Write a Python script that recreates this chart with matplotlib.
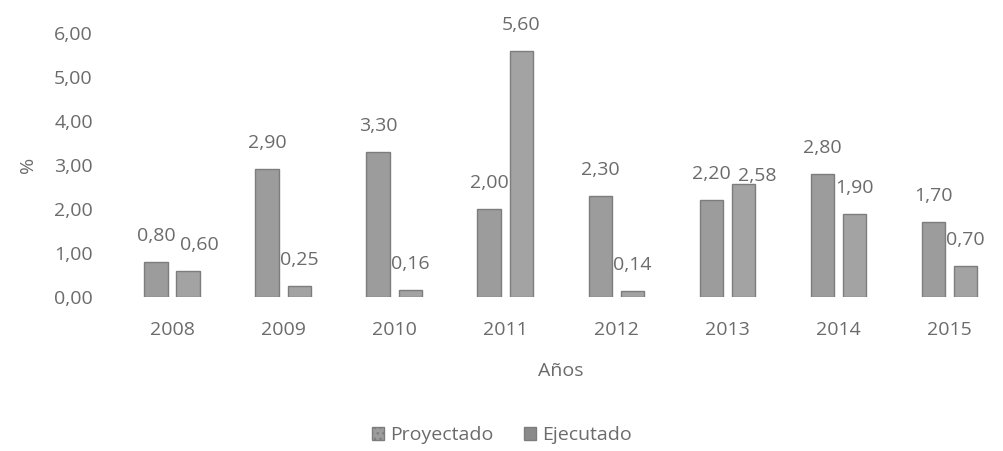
import numpy as np
import matplotlib
matplotlib.use("Agg")
import matplotlib.pyplot as plt
from matplotlib.patches import Patch

years = ["2008", "2009", "2010", "2011", "2012", "2013", "2014", "2015"]
proyectado = [0.80, 2.90, 3.30, 2.00, 2.30, 2.20, 2.80, 1.70]
ejecutado = [0.60, 0.25, 0.16, 5.60, 0.14, 2.58, 1.90, 0.70]
yticks = [0, 1, 2, 3, 4, 5, 6]

plt.rcParams["font.family"] = ["Open Sans", "DejaVu Sans"]
text_color = "#6b6b6b"
bar_face = "#9c9c9c"
bar_edge = "#7d7d7d"
fs = 14

fig = plt.figure(figsize=(10.04, 4.51), dpi=100)
ax = fig.add_axes([0.116, 0.341, 0.885, 0.586])

x = np.arange(len(years))
w = 0.21
off = 0.145
ax.bar(x - off, proyectado, w, color=bar_face, edgecolor=bar_edge, linewidth=1)
ax.bar(x + off, ejecutado, w, color="#a3a3a3", edgecolor=bar_edge, linewidth=1)

def fmt(v):
    return f"{v:.2f}".replace(".", ",")

# labels sit about 26 px above each bar; nudge the ones Excel shifted sideways
for i, v in enumerate(proyectado):
    ax.annotate(fmt(v), (x[i] - off, v), xytext=(0, 26), textcoords="offset pixels",
                ha="center", va="center", fontsize=fs, color=text_color)
nudge = {0: 11, 5: 14}
for i, v in enumerate(ejecutado):
    dy = 26 if i != 5 else 8
    ax.annotate(fmt(v), (x[i] + off, v), xytext=(nudge.get(i, 0), dy), textcoords="offset pixels",
                ha="center", va="center", fontsize=fs, color=text_color)

ax.set_xlim(-0.5, len(years) - 0.5)
ax.set_ylim(0, 6)
ax.set_yticks(yticks)
ax.set_yticklabels([fmt(t) for t in yticks])
ax.set_xticks(x)
ax.set_xticklabels(years)
ax.tick_params(axis="both", length=0, labelsize=fs, colors=text_color)
ax.tick_params(axis="y", pad=17)
ax.tick_params(axis="x", pad=17)
for s in ax.spines.values():
    s.set_visible(False)

ax.set_xlabel("Años", fontsize=fs, color=text_color, labelpad=17)
ax.set_ylabel("%", fontsize=fs, color=text_color, labelpad=12)

handles = [Patch(facecolor=bar_face, edgecolor=bar_edge, hatch="...", label="Proyectado"),
           Patch(facecolor="#8a8a8a", edgecolor=bar_edge, label="Ejecutado")]
fig.legend(handles=handles, loc="center", bbox_to_anchor=(0.5, 0.035), ncol=2, frameon=False,
           fontsize=fs, labelcolor=text_color, handlelength=0.6, handleheight=0.6,
           handletextpad=0.3, columnspacing=1.6)

fig.savefig("out.png", dpi=100)
